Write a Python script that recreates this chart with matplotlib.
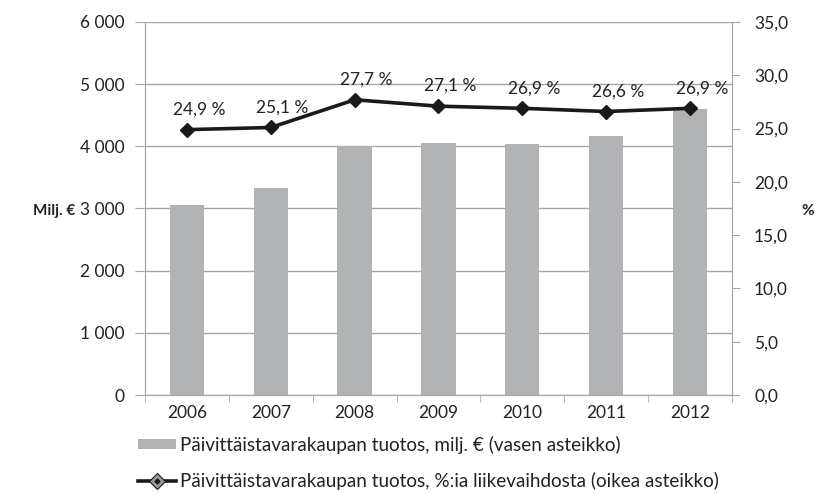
import matplotlib
matplotlib.use("Agg")
import matplotlib.pyplot as plt
from matplotlib.lines import Line2D
from matplotlib.patches import Patch

plt.rcParams['font.family'] = ['Lato', 'DejaVu Sans']

# data
years = ["2006", "2007", "2008", "2009", "2010", "2011", "2012"]
tuotos_milj = [3055, 3325, 4005, 4050, 4035, 4165, 4600]
tuotos_pct = [24.9, 25.1, 27.7, 27.1, 26.9, 26.6, 26.9]
left_ticks = [0, 1000, 2000, 3000, 4000, 5000, 6000]
right_ticks = [0, 5, 10, 15, 20, 25, 30, 35]

gray = "#b1b2b4"
axcol = "#a6a6a6"
txt = "#222222"
fs = 12.5

fig = plt.figure(figsize=(8.15, 4.94), dpi=100)
ax = fig.add_axes([0.178, 0.2004, 0.72, 0.7551])
x = list(range(len(years)))

ax.bar(x, tuotos_milj, width=0.41, color=gray, zorder=2)
ax.set_ylim(0, 6000)
ax.set_xlim(-0.5, len(years) - 0.5)
ax.set_yticks(left_ticks)
ax.set_yticklabels([f"{v:,}".replace(",", " ") for v in left_ticks])
ax.set_xticks(x)
ax.set_xticklabels(years)
ax.set_xticks([i - 0.5 for i in range(len(years) + 1)], minor=True)
ax.yaxis.grid(True, color=axcol, linewidth=1, zorder=0)
ax.set_axisbelow(True)
ax.tick_params(axis="y", length=7, color=axcol, labelsize=fs, labelcolor=txt, pad=8)
ax.tick_params(axis="x", which="major", length=0, labelsize=fs, labelcolor=txt, pad=7)
ax.tick_params(axis="x", which="minor", length=5, color=axcol)
ax.spines["top"].set_visible(False)
for s in ["left", "bottom", "right"]:
    ax.spines[s].set_color(axcol)

ax2 = ax.twinx()
ax2.plot(x, tuotos_pct, color="#1a1a1a", linewidth=2.6, marker="D",
         markersize=7.5, markerfacecolor="#1a1a1a", zorder=3)
ax2.set_ylim(0, 35)
ax2.set_yticks(right_ticks)
ax2.set_yticklabels([f"{v:.1f}".replace(".", ",") for v in right_ticks])
ax2.tick_params(axis="y", length=6, color=axcol, labelsize=fs, labelcolor=txt, pad=10)
ax2.spines["top"].set_visible(False)
for s in ["left", "bottom", "right"]:
    ax2.spines[s].set_color(axcol)

for xi, v in zip(x, tuotos_pct):
    ax2.annotate(f"{v:.1f} %".replace(".", ","), (xi, v), xytext=(8.5, 14.5),
                 textcoords="offset points", ha="center", va="center",
                 fontsize=fs, color=txt)

fig.text(0.066, 0.572, "Milj. €", ha="center", va="center", fontsize=11,
         fontweight="bold", color=txt)
fig.text(0.991, 0.572, "%", ha="center", va="center", fontsize=11,
         fontweight="bold", color=txt)

h1 = Patch(facecolor=gray, edgecolor="none")
h2a = Line2D([], [], color="#1a1a1a", linewidth=2.6, marker="D", markersize=8,
             markerfacecolor="#9a9a9a", markeredgecolor="#1a1a1a", markeredgewidth=0.8)
h2b = Line2D([], [], linestyle="none", marker="D", markersize=2.5,
             markerfacecolor="#1a1a1a", markeredgecolor="#1a1a1a")
fig.legend([h1, (h2a, h2b)],
           ["Päivittäistavarakaupan tuotos, milj. € (vasen asteikko)",
            "Päivittäistavarakaupan tuotos, %:ia liikevaihdosta (oikea asteikko)"],
           loc="upper left", bbox_to_anchor=(0.169, 0.118), frameon=False,
           borderpad=0, borderaxespad=0,
           fontsize=13.6, labelspacing=0.97, handlelength=2.05, handleheight=0.5,
           handletextpad=0.2, labelcolor=txt)

fig.savefig("out.png", dpi=100)
